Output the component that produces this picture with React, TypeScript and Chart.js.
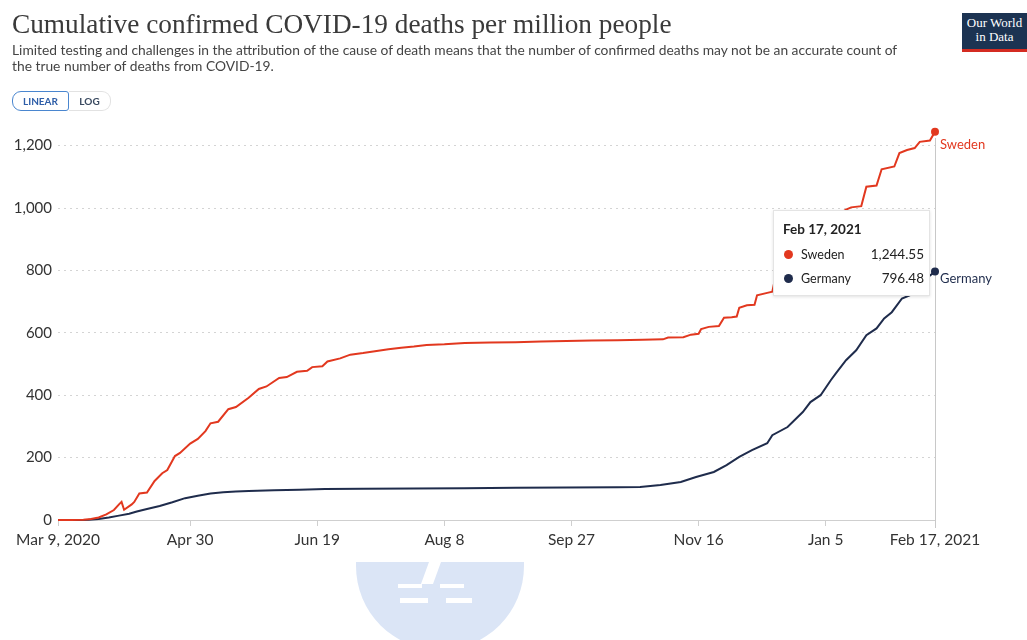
import React, { useEffect, useRef } from 'react';
import { Chart, registerables } from 'chart.js';

Chart.register(...registerables);

// ---- data ----
const tickDays = [0, 52, 102, 152, 202, 252, 302, 345];
const tickLabels = ['Mar 9, 2020', 'Apr 30', 'Jun 19', 'Aug 8', 'Sep 27', 'Nov 16', 'Jan 5', 'Feb 17, 2021'];
const yTicks = [0, 200, 400, 600, 800, 1000, 1200];

const seriesNames = ['Sweden', 'Germany'];
const tooltipDate = 'Feb 17, 2021';

const swedenDays = [0, 5, 10, 13, 16, 19, 22, 24, 25, 26, 29, 30, 32, 35, 38, 41, 43, 46, 48, 52, 55, 58, 60, 63, 67, 70, 75, 79, 82, 87, 90, 94, 98, 100, 104, 106, 111, 115, 120, 124, 130, 135, 140, 145, 152, 160, 170, 180, 190, 200, 210, 220, 230, 238, 240, 246, 249, 252, 253, 256, 260, 262, 265, 267, 268, 271, 274, 275, 279, 281, 282, 285, 289, 292, 296, 299, 303, 306, 310, 312, 316, 318, 322, 324, 329, 331, 334, 337, 339, 343, 345];
const swedenValues = [0, 0, 1, 3, 8, 18, 32, 50, 58, 33, 50, 58, 85, 88, 125, 150, 160, 205, 215, 245, 260, 285, 310, 315, 355, 362, 392, 420, 428, 455, 458, 475, 478, 490, 493, 508, 518, 530, 535, 540, 547, 552, 556, 561, 563, 567, 569, 570, 572, 574, 575, 576, 578, 579, 585, 586, 594, 597, 612, 619, 622, 648, 650, 652, 680, 688, 690, 720, 728, 732, 770, 800, 840, 860, 900, 925, 955, 975, 995, 1002, 1006, 1068, 1072, 1124, 1133, 1176, 1186, 1192, 1212, 1216, 1244.55];

const germanyDays = [0, 8, 12, 16, 20, 24, 28, 31, 35, 40, 45, 50, 55, 60, 65, 70, 75, 85, 95, 105, 120, 140, 160, 180, 200, 220, 229, 237, 245, 251, 258, 263, 268, 273, 279, 281, 287, 291, 293, 296, 300, 304, 306, 310, 314, 318, 322, 325, 328, 332, 335, 338, 341, 345];
const germanyValues = [0, 0, 1, 3, 8, 14, 20, 27, 35, 45, 57, 70, 78, 85, 89, 91, 93, 95, 97, 99, 100, 101, 102, 103, 104, 105, 106, 112, 122, 138, 154, 176, 202, 224, 246, 272, 298, 330, 346, 378, 400, 448, 470, 512, 544, 592, 614, 646, 666, 710, 720, 745, 770, 796.48];

const seriesColors = ['#e2381f', '#1f2c4c'];

const fmt = (v: number) =>
  v.toLocaleString('en-US', { minimumFractionDigits: 2, maximumFractionDigits: 2 });

const endLabels = {
  id: 'endLabels',
  beforeDatasetsDraw(chart: any) {
    const { ctx, chartArea } = chart;
    const x = chart.scales.x.getPixelForValue(tickDays[tickDays.length - 1]);
    ctx.save();
    ctx.strokeStyle = '#c8c8c8';
    ctx.lineWidth = 1;
    ctx.beginPath();
    ctx.moveTo(Math.round(x) + 0.5, chartArea.top + 8);
    ctx.lineTo(Math.round(x) + 0.5, chartArea.bottom + 8);
    ctx.stroke();
    ctx.restore();
  },
  afterDatasetsDraw(chart: any) {
    const { ctx } = chart;
    ctx.save();
    ctx.font = '13px Lato';
    ctx.textBaseline = 'middle';
    const offs = [13, 7];
    chart.data.datasets.forEach((ds: any, i: number) => {
      const meta = chart.getDatasetMeta(i);
      const pt = meta.data[meta.data.length - 1];
      ctx.fillStyle = seriesColors[i];
      ctx.fillText(seriesNames[i], pt.x + 5, pt.y + offs[i]);
    });
    ctx.restore();
  },
};

function ChartCanvas() {
  const ref = useRef<HTMLCanvasElement>(null);
  useEffect(() => {
    const sw = swedenDays.map((d, i) => ({ x: d, y: swedenValues[i] }));
    const de = germanyDays.map((d, i) => ({ x: d, y: germanyValues[i] }));
    const mk = (data: any[], i: number) => ({
      label: seriesNames[i],
      data,
      borderColor: seriesColors[i],
      backgroundColor: seriesColors[i],
      borderWidth: 2,
      tension: 0,
      clip: false,
      pointRadius: (c: any) => (c.dataIndex === data.length - 1 ? 4 : 0),
      pointBorderWidth: 0,
    });
    const chart = new Chart(ref.current!, {
      type: 'line',
      data: { datasets: [mk(sw, 0), mk(de, 1)] as any },
      options: {
        animation: false,
        responsive: false,
        maintainAspectRatio: false,
        layout: { padding: { left: 0, top: 130, right: 92, bottom: 90 } },
        plugins: { legend: { display: false }, tooltip: { enabled: false } },
        scales: {
          x: {
            type: 'linear',
            min: tickDays[0],
            max: tickDays[tickDays.length - 1],
            afterBuildTicks: (s: any) => {
              s.ticks = tickDays.map((v) => ({ value: v }));
            },
            afterFit: (s: any) => {
              s.height = 30;
            },
            ticks: {
              autoSkip: false,
              maxRotation: 0,
              padding: 5,
              color: '#333',
              font: { family: 'Lato', size: 15.5 },
              callback: (v: any) => tickLabels[tickDays.indexOf(Number(v))] ?? '',
            },
            grid: { drawOnChartArea: false, drawTicks: true, tickLength: 6, color: '#cfcfcf' },
            border: { display: true, color: '#cfcfcf' },
          },
          y: {
            min: 0,
            max: 1250,
            afterBuildTicks: (s: any) => {
              s.ticks = yTicks.map((v) => ({ value: v }));
            },
            afterFit: (s: any) => {
              s.width = 58;
            },
            ticks: {
              padding: 6,
              color: '#333',
              font: { family: 'Lato', size: 15 },
              callback: (v: any) => Number(v).toLocaleString('en-US'),
            },
            grid: {
              drawTicks: false,
              color: (c: any) => (c.tick && c.tick.value === 0 ? 'rgba(0,0,0,0)' : '#d4d4d4'),
            },
            border: { display: false, dash: [2, 4] },
          },
        },
      },
      plugins: [endLabels],
    });
    return () => chart.destroy();
  }, []);
  return <canvas ref={ref} width={1027} height={640} style={{ position: 'absolute', left: 0, top: 0 }} />;
}

export default function App() {
  const lastSw = swedenValues[swedenValues.length - 1];
  const lastDe = germanyValues[germanyValues.length - 1];
  return (
    <div style={{ position: 'absolute', left: 0, top: 0, width: 1027, height: 640, background: '#fff', overflow: 'hidden', fontFamily: 'Lato' }}>
      {/* watermark */}
      <div style={{ position: 'absolute', left: 356, top: 562, width: 168, height: 88, background: '#dbe5f6', borderRadius: '0 0 84px 84px' }} />
      <div style={{ position: 'absolute', left: 398, top: 584, width: 24, height: 4, background: '#fff' }} />
      <div style={{ position: 'absolute', left: 440, top: 584, width: 24, height: 4, background: '#fff' }} />
      <div style={{ position: 'absolute', left: 400, top: 598, width: 28, height: 5, background: '#fff' }} />
      <div style={{ position: 'absolute', left: 446, top: 598, width: 26, height: 5, background: '#fff' }} />
      <div style={{ position: 'absolute', left: 425, top: 562, width: 12, height: 22, background: '#fff', transform: 'skewX(-20deg)' }} />

      <ChartCanvas />

      <div style={{ position: 'absolute', left: 12, top: 8, fontFamily: '"Liberation Serif", serif', fontSize: 27.3, color: '#3a3a3a', whiteSpace: 'nowrap', lineHeight: '32px' }}>
        Cumulative confirmed COVID-19 deaths per million people
      </div>
      <div style={{ position: 'absolute', left: 12, top: 42, fontSize: 13.8, color: '#444', lineHeight: '16px', whiteSpace: 'nowrap' }}>
        Limited testing and challenges in the attribution of the cause of death means that the number of confirmed deaths may not be an accurate count of
        <br />
        the true number of deaths from COVID-19.
      </div>

      {/* buttons */}
      <div style={{ position: 'absolute', left: 12, top: 91, width: 57, height: 20, border: '1.5px solid #4a86cf', borderRadius: '9px 3px 3px 9px', fontSize: 10, fontWeight: 700, color: '#2e5ea8', display: 'flex', alignItems: 'center', justifyContent: 'center', boxSizing: 'border-box' }}>
        LINEAR
      </div>
      <div style={{ position: 'absolute', left: 69, top: 91, width: 42, height: 20, border: '1px solid #e2e2e2', borderLeft: 'none', borderRadius: '0 9px 9px 0', fontSize: 10, fontWeight: 700, color: '#3a4a60', display: 'flex', alignItems: 'center', justifyContent: 'center', boxSizing: 'border-box' }}>
        LOG
      </div>

      {/* logo */}
      <div style={{ position: 'absolute', left: 962, top: 13, width: 65, height: 39, background: '#1c3352', borderBottom: '3px solid #d42b21', boxSizing: 'border-box', color: '#fff', fontFamily: '"Liberation Serif", serif', fontSize: 13, lineHeight: '14px', textAlign: 'center', paddingTop: 3 }}>
        Our World
        <br />
        in Data
      </div>

      {/* tooltip */}
      <div style={{ position: 'absolute', left: 773, top: 210, width: 157, height: 86, background: '#fff', border: '1px solid #e4e4e4', boxShadow: '0 1px 3px rgba(0,0,0,0.12)', boxSizing: 'border-box', color: '#222' }}>
        <div style={{ position: 'absolute', left: 9, top: 10, fontSize: 13.5, fontWeight: 700 }}>{tooltipDate}</div>
        {[lastSw, lastDe].map((v, i) => (
          <div key={i} style={{ position: 'absolute', left: 10, top: 34 + i * 24, width: 140, height: 18, fontSize: 12.5, display: 'flex', alignItems: 'center' }}>
            <span style={{ width: 9, height: 9, borderRadius: '50%', background: seriesColors[i], display: 'inline-block', marginRight: 8 }} />
            <span>{seriesNames[i]}</span>
            <span style={{ marginLeft: 'auto', fontSize: 13.5 }}>{fmt(v)}</span>
          </div>
        ))}
      </div>
    </div>
  );
}
